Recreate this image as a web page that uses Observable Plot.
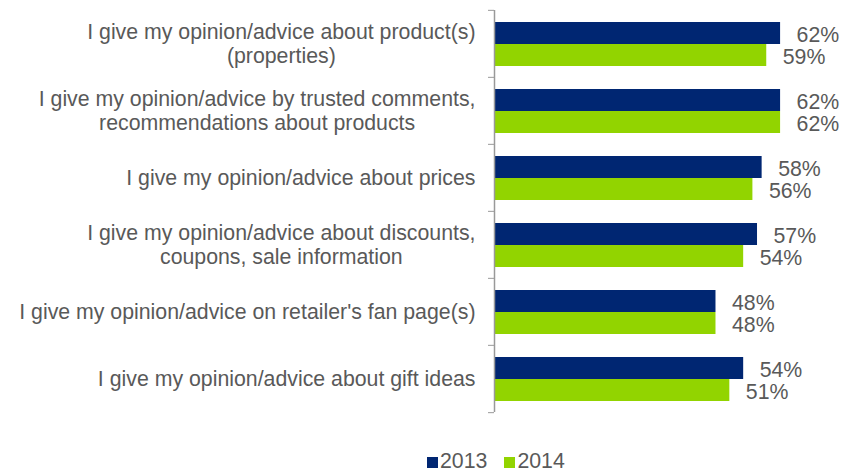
<!DOCTYPE html>
<html>
<head>
<meta charset="utf-8">
<script src="https://cdn.jsdelivr.net/npm/d3@7"></script>
<script src="https://cdn.jsdelivr.net/npm/@observablehq/plot@0.6"></script>
<style>
  html, body { margin: 0; padding: 0; background: #fff; }
  body { font-family: "Liberation Sans", Arial, sans-serif; }
  #legend { display: flex; align-items: center; height: 42px; margin-left: 427px; font-size: 21.3px; color: #595959; }
  #legend .sw { width: 11px; height: 11px; margin-right: 2px; margin-top: 2px; }
  #legend .item { display: flex; align-items: center; margin-right: 17px; }
</style>
</head>
<body>
<div id="chart"></div>
<div id="legend"></div>
<script>
const categories = [
  "I give my opinion/advice about product(s)\n(properties)",
  "I give my opinion/advice by trusted comments,\nrecommendations about products",
  "I give my opinion/advice about prices",
  "I give my opinion/advice about discounts,\ncoupons, sale information",
  "I give my opinion/advice on retailer's fan page(s)",
  "I give my opinion/advice about gift ideas"
];
const years = ["2013", "2014"];
const values2013 = [62, 62, 58, 57, 48, 54];
const values2014 = [59, 62, 56, 54, 48, 51];
const colors = ["#002672", "#92D400"];

const data = categories.flatMap((c, i) => [
  {category: c, year: years[0], value: values2013[i]},
  {category: c, year: years[1], value: values2014[i]}
]);

const H = 440, mT = 9, mB = 27;
const step = (H - mT - mB) / categories.length;
const textColor = "#595959";
const axisColor = "#999999";
const fs = 21.3;

const chart = Plot.plot({
  width: 850,
  height: H,
  marginTop: mT,
  marginBottom: mB,
  marginLeft: 494,
  marginRight: 33,
  style: {fontFamily: '"Liberation Sans", Arial, sans-serif', fontSize: fs + "px", background: "#fff"},
  x: {domain: [0, 70], axis: null},
  y: {domain: years, paddingInner: 0, paddingOuter: 0.5, axis: null},
  fy: {domain: categories, padding: 0, axis: null},
  color: {domain: years, range: colors},
  marks: [
    Plot.barX(data, {x: "value", y: "year", fy: "category", fill: "year"}),
    Plot.text(data, {x: "value", y: "year", fy: "category", text: d => d.value + "%",
      textAnchor: "start", dx: 16, dy: 2, fill: textColor, fontSize: fs}),
    Plot.ruleX([0], {stroke: axisColor, strokeWidth: 1.5}),
    Plot.axisFy({anchor: "left", tickSize: 6, tickFormat: () => "", label: null, dy: -step / 2, color: axisColor}),
    Plot.axisFy({anchor: "left", ticks: [categories[categories.length - 1]], tickSize: 6, tickFormat: () => "", label: null, dy: step / 2, color: axisColor}),
    Plot.text(categories, {fy: d => d, text: d => d, frameAnchor: "left", textAnchor: "end",
      dx: -19, dy: -1, lineHeight: 25 / fs, fontSize: fs, fill: textColor})
  ]
});
document.getElementById("chart").appendChild(chart);

// center multi-line category labels line-by-line within their right-aligned block
chart.querySelectorAll("text").forEach(t => {
  const spans = t.querySelectorAll("tspan");
  if (spans.length > 1) {
    const w = Math.max(...Array.from(spans, s => s.getComputedTextLength()));
    t.setAttribute("text-anchor", "middle");
    spans.forEach(s => s.setAttribute("x", -w / 2));
  }
});

const legend = document.getElementById("legend");
years.forEach((y, i) => {
  const item = document.createElement("div");
  item.className = "item";
  const sw = document.createElement("div");
  sw.className = "sw";
  sw.style.background = colors[i];
  const label = document.createElement("span");
  label.textContent = y;
  item.appendChild(sw);
  item.appendChild(label);
  legend.appendChild(item);
});
</script>
</body>
</html>
